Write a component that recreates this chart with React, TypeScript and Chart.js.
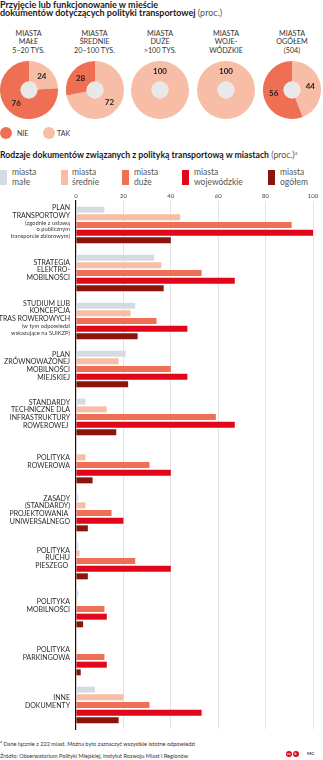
import React, { useEffect, useRef } from "react";
import { Chart, registerables } from "chart.js";
Chart.register(...registerables);

const FONT = 'Lato, "Noto Sans", sans-serif';

// ---------- Top section data (doughnuts) ----------
const pieTitles: string[][] = [
  ["MIASTA", "MAŁE", "5–20 TYS."],
  ["MIASTA", "ŚREDNIE", "20–100 TYS."],
  ["MIASTA", "DUŻE", ">100 TYS."],
  ["MIASTA", "WOJE-", "WÓDZKIE"],
  ["MIASTA", "OGÓŁEM", "(504)"],
];
const pieTak = [24, 72, 100, 100, 44];
const pieNie = [76, 28, 0, 0, 56];
const pieLegend = ["NIE", "TAK"];
const NIE_COLOR = "#ef6f55";
const TAK_COLOR = "#f8bda6";

// ---------- Bar section data ----------
const barCategories: string[][] = [
  ["PLAN", "TRANSPORTOWY", "(zgodnie z ustawą", "o publicznym", "transporcie zbiorowym)"],
  ["STRATEGIA", "ELEKTRO-", "MOBILNOŚCI"],
  ["STUDIUM LUB", "KONCEPCJA", "TRAS ROWEROWYCH", "(w tym odpowiedzi", "wskazujące na SUiKZP)"],
  ["PLAN", "ZRÓWNOWAŻONEJ", "MOBILNOŚCI", "MIEJSKIEJ"],
  ["STANDARDY", "TECHNICZNE DLA", "INFRASTRUKTURY", "ROWEROWEJ "],
  ["POLITYKA", "ROWEROWA"],
  ["ZASADY", "(STANDARDY)", "PROJEKTOWANIA ", "UNIWERSALNEGO"],
  ["POLITYKA", "RUCHU", "PIESZEGO "],
  ["POLITYKA", "MOBILNOŚCI"],
  ["POLITYKA", "PARKINGOWA"],
  ["INNE", "DOKUMENTY"],
];
const seriesNames: string[][] = [
  ["miasta", "małe"],
  ["miasta", "średnie"],
  ["miasta", "duże"],
  ["miasta", "wojewódzkie"],
  ["miasta", "ogółem"],
];
const seriesColors = ["#d4dbe2", "#f8bda6", "#ef6f55", "#e2061a", "#8b150c"];
const miastaMale = [12, 33, 25, 21, 4, 0, 1, 1, 1, 0, 8];
const miastaSrednie = [44, 36, 23, 18, 13, 4, 4, 1.5, 0.5, 0.5, 20];
const miastaDuze = [91, 53, 34, 40, 59, 31, 15, 25, 12, 12, 31];
const miastaWojewodzkie = [100, 67, 47, 47, 67, 40, 20, 40, 13, 13, 53];
const miastaOgolem = [40, 37, 26, 22, 17, 7, 5, 5, 3, 2, 18];
const seriesValues = [miastaMale, miastaSrednie, miastaDuze, miastaWojewodzkie, miastaOgolem];
const xTicks = [0, 20, 40, 60, 80, 100];

const pieCenters = [28.5, 94.5, 160, 226, 292];

const pieLabelPlugin = {
  id: "pieLabels",
  afterDatasetsDraw(chart: any) {
    const ctx = chart.ctx;
    const meta = chart.getDatasetMeta(0);
    const first = meta.data[0];
    if (!first) return;
    const p0 = first.getProps(["x", "y", "innerRadius"], true);
    ctx.save();
    ctx.fillStyle = "#e8e8e8";
    ctx.beginPath();
    ctx.arc(p0.x, p0.y, p0.innerRadius, 0, Math.PI * 2);
    ctx.fill();
    const vals = chart.data.datasets[0].data as number[];
    ctx.font = `bold 8px ${FONT}`;
    ctx.fillStyle = "#1e1e1e";
    ctx.textAlign = "center";
    ctx.textBaseline = "middle";
    meta.data.forEach((arc: any, i: number) => {
      const v = vals[i];
      if (!v) return;
      const p = arc.getProps(["x", "y", "startAngle", "endAngle", "innerRadius", "outerRadius"], true);
      let ang = (p.startAngle + p.endAngle) / 2;
      if (p.endAngle - p.startAngle > Math.PI * 2 - 0.01) ang = p.startAngle;
      const r = (p.innerRadius + p.outerRadius) / 2;
      ctx.fillText(String(v), p.x + Math.cos(ang) * r, p.y + Math.sin(ang) * r);
    });
    ctx.restore();
  },
};

function Pie({ idx }: { idx: number }) {
  const ref = useRef<HTMLCanvasElement>(null);
  useEffect(() => {
    const chart = new Chart(ref.current as HTMLCanvasElement, {
      type: "doughnut",
      data: {
        labels: ["TAK", "NIE"],
        datasets: [
          {
            data: [pieTak[idx], pieNie[idx]],
            backgroundColor: [TAK_COLOR, NIE_COLOR],
            borderWidth: 0,
          },
        ],
      },
      options: {
        responsive: false,
        animation: false,
        cutout: "29%",
        events: [],
        layout: { padding: 0 },
        plugins: { legend: { display: false }, tooltip: { enabled: false } },
      },
      plugins: [pieLabelPlugin],
    } as any);
    return () => chart.destroy();
  }, [idx]);
  return (
    <canvas
      ref={ref}
      width={58}
      height={58}
      style={{ position: "absolute", left: pieCenters[idx] - 29, top: 60.5, width: 58, height: 58 }}
    />
  );
}

const isSub = (s: string) => /[a-ząćęłńóśźż]/.test(s);

const yLabelPlugin = {
  id: "yLabels",
  afterDraw(chart: any) {
    const ctx = chart.ctx;
    const y = chart.scales.y;
    ctx.save();
    ctx.textAlign = "right";
    ctx.textBaseline = "middle";
    barCategories.forEach((lines, i) => {
      const hs = lines.map((l) => (isSub(l) ? 6.8 : 7.6));
      const total = hs.reduce((a, b) => a + b, 0);
      let cy = y.getPixelForValue(i) - 3 - total / 2;
      lines.forEach((l, j) => {
        const sub = isSub(l);
        ctx.font = sub ? `5.8px ${FONT}` : `7px ${FONT}`;
        ctx.fillStyle = sub ? "#3a3a3a" : "#2a2a2a";
        ctx.fillText(l, 70, cy + hs[j] / 2);
        cy += hs[j];
      });
    });
    ctx.restore();
  },
};

function Bars() {
  const ref = useRef<HTMLCanvasElement>(null);
  useEffect(() => {
    const chart = new Chart(ref.current as HTMLCanvasElement, {
      type: "bar",
      data: {
        labels: barCategories.map((c) => c.join(" ")),
        datasets: seriesValues.map((vals, i) => ({
          label: seriesNames[i].join(" "),
          data: vals,
          backgroundColor: seriesColors[i],
          borderWidth: 0,
          categoryPercentage: 0.8,
          barPercentage: 0.78,
        })),
      },
      options: {
        indexAxis: "y",
        responsive: false,
        animation: false,
        events: [],
        layout: { padding: { left: 76, right: 10, top: 0, bottom: 1 } },
        plugins: { legend: { display: false }, tooltip: { enabled: false } },
        scales: {
          x: {
            position: "top",
            min: 0,
            max: 100,
            afterFit: (s: any) => {
              s.height = 12;
            },
            afterBuildTicks: (s: any) => {
              s.ticks = xTicks.map((v) => ({ value: v }));
            },
            ticks: { font: { family: FONT, size: 6 }, color: "#444", padding: 1, maxRotation: 0 },
            grid: {
              drawTicks: false,
              color: (c: any) => (c.tick && c.tick.value === 0 ? "rgba(0,0,0,0)" : "#dcdcdc"),
              lineWidth: 0.8,
            },
            border: { display: false },
          },
          y: {
            z: 1,
            afterFit: (s: any) => {
              s.width = 0;
            },
            ticks: { display: false },
            grid: { display: false, drawTicks: false },
            border: { display: true, color: "#111", width: 1.2 },
          },
        },
      },
      plugins: [yLabelPlugin],
    } as any);
    return () => chart.destroy();
  }, []);
  return (
    <canvas
      ref={ref}
      width={323}
      height={541}
      style={{ position: "absolute", left: 0, top: 189, width: 323, height: 541 }}
    />
  );
}

const swatchLefts = [0, 61, 122, 182, 268];
const textLefts = [12, 72, 134, 194, 280];

export default function App() {
  return (
    <div
      style={{
        position: "absolute",
        left: 0,
        top: 0,
        width: 323,
        height: 760,
        background: "#fff",
        fontFamily: FONT,
        color: "#1a1a1a",
        overflow: "hidden",
      }}
    >
      <div style={{ position: "absolute", left: 0, top: 0.5, fontSize: 9, lineHeight: "8.6px", fontWeight: 700, whiteSpace: "nowrap" }}>
        Przyjęcie lub funkcjonowanie w mieście
        <br />
        dokumentów dotyczących polityki transportowej{" "}
        <span style={{ fontWeight: 400, color: "#555" }}>(proc.)</span>
      </div>

      {pieTitles.map((lines, i) => (
        <div
          key={i}
          style={{
            position: "absolute",
            left: pieCenters[i] - 33,
            width: 66,
            top: 29.8,
            textAlign: "center",
            fontSize: 7.2,
            lineHeight: "8.4px",
            color: "#333",
            whiteSpace: "nowrap",
          }}
        >
          {lines.map((l, j) => (
            <div key={j}>{l}</div>
          ))}
        </div>
      ))}

      {pieTitles.map((_, i) => (
        <Pie key={i} idx={i} />
      ))}

      {pieLegend.map((name, i) => (
        <React.Fragment key={name}>
          <div
            style={{
              position: "absolute",
              left: i === 0 ? 0 : 43,
              top: 127,
              width: 12,
              height: 12,
              borderRadius: "50%",
              background: i === 0 ? NIE_COLOR : TAK_COLOR,
            }}
          />
          <div
            style={{
              position: "absolute",
              left: i === 0 ? 17 : 57,
              top: 128,
              fontSize: 7,
              lineHeight: "10px",
              color: "#333",
            }}
          >
            {name}
          </div>
        </React.Fragment>
      ))}

      <div style={{ position: "absolute", left: 0, top: 149.5, fontSize: 8.7, lineHeight: "9px", fontWeight: 700, whiteSpace: "nowrap" }}>
        Rodzaje dokumentów związanych z polityką transportową w miastach{" "}
        <span style={{ fontWeight: 400, color: "#555" }}>
          (proc.)<sup style={{ fontSize: 5, verticalAlign: "top", lineHeight: "6px" }}>a</sup>
        </span>
      </div>

      {seriesNames.map((lines, i) => (
        <React.Fragment key={i}>
          <div
            style={{
              position: "absolute",
              left: swatchLefts[i],
              top: 170,
              width: 6.5,
              height: 15,
              background: seriesColors[i],
            }}
          />
          <div
            style={{
              position: "absolute",
              left: textLefts[i],
              top: 168.3,
              fontSize: 8.5,
              lineHeight: "9.6px",
              color: "#555",
              whiteSpace: "nowrap",
            }}
          >
            {lines.map((l, j) => (
              <div key={j}>{l}</div>
            ))}
          </div>
        </React.Fragment>
      ))}

      <Bars />

      <div style={{ position: "absolute", left: 0, top: 739.5, fontSize: 5.6, lineHeight: "7px", color: "#333", whiteSpace: "nowrap" }}>
        <sup style={{ fontSize: 4, verticalAlign: "top", lineHeight: "4px" }}>a</sup> Dane łącznie z 222 miast. Można było zaznaczyć wszystkie istotne odpowiedzi
      </div>
      <div style={{ position: "absolute", left: 0, top: 751.5, fontSize: 5.6, lineHeight: "7px", color: "#333", whiteSpace: "nowrap" }}>
        Źródło: Obserwatorium Polityki Miejskiej, Instytut Rozwoju Miast i Regionów
      </div>
      {[286, 292.5].map((x, i) => (
        <div
          key={i}
          style={{
            position: "absolute",
            left: x,
            top: 751,
            width: 6,
            height: 6,
            borderRadius: "50%",
            background: "#e2061a",
            color: "#fff",
            fontSize: 3.5,
            lineHeight: "6px",
            textAlign: "center",
            fontWeight: 700,
          }}
        >
          {i === 0 ? "cc" : "b"}
        </div>
      ))}
      <div style={{ position: "absolute", left: 307, top: 751, fontSize: 4.5, lineHeight: "6px", color: "#333", fontWeight: 700 }}>
        MC
      </div>
    </div>
  );
}
